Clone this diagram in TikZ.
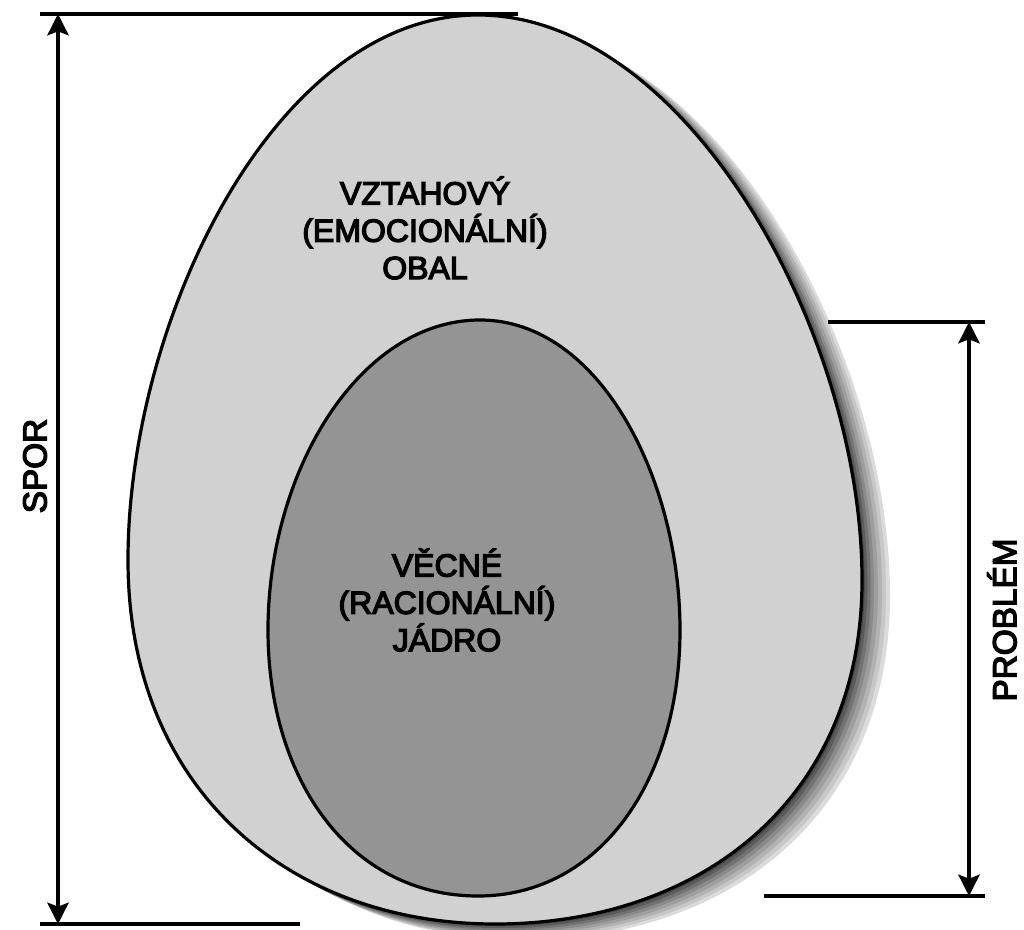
\documentclass[tikz,border=0pt]{standalone}
\usepackage{fontspec}
\setmainfont{Liberation Sans}
\newfontfamily\labfont[FakeBold=4]{Liberation Sans}
\usetikzlibrary{arrows.meta}
\newcommand\eggOuter[1]{\path[#1] (478,15) .. controls (685,15) and (862,330) .. (862,580) .. controls (862,800) and (700,924) .. (495,924) .. controls (290,924) and (128,790) .. (128,560) .. controls (128,320) and (275,15) .. cycle;}
\newcommand\eggInner[1]{\path[#1] (480,320) .. controls (600,320) and (680,480) .. (680,630) .. controls (680,780) and (600,896) .. (478,896) .. controls (350,896) and (268,780) .. (268,630) .. controls (268,470) and (360,320) .. cycle;}
\tikzset{
  dimline/.style={draw=black, line width=2.6pt},
  dimarrow/.style={draw=black, line width=2.6pt, {Stealth[length=16pt,width=16pt,inset=3pt]}-{Stealth[length=16pt,width=16pt,inset=3pt]}},
  eggline/.style={draw=black, line width=2.4pt},
  label/.style={font=\labfont\fontsize{24}{28}\selectfont, align=center, inner sep=0pt},
  sidelabel/.style={font=\labfont\fontsize{25}{28}\selectfont, rotate=90, inner sep=0pt},
  shadowlayer/.style={fill=black!#1}
}
\begin{document}
\begin{tikzpicture}[x=0.75pt,y=-0.75pt]
\useasboundingbox (0,0) rectangle (1024,930);
% soft cast shadow to lower right (light outer band to dark inner band)
\eggOuter{shadowlayer=14, xshift=21pt, yshift=-12pt}
\eggOuter{shadowlayer=22, xshift=18pt, yshift=-10.5pt}
\eggOuter{shadowlayer=30, xshift=15pt, yshift=-9pt}
\eggOuter{shadowlayer=38, xshift=12pt, yshift=-7.5pt}
\eggOuter{shadowlayer=46, xshift=9pt, yshift=-6pt}
\eggOuter{shadowlayer=55, xshift=6.5pt, yshift=-4.5pt}
\eggOuter{shadowlayer=64, xshift=4pt, yshift=-3pt}
\eggOuter{shadowlayer=72, xshift=2pt, yshift=-1.5pt}
\eggOuter{fill=black!18, eggline}
\eggInner{fill=black!42, eggline}
% labels
\node[label] (outerlab) at (425,228) {VZTAHOVÝ\\(EMOCIONÁLNÍ)\\OBAL};
\node[label] (innerlab) at (447,600) {VĚCNÉ\\(RACIONÁLNÍ)\\JÁDRO};
% left dimension
\coordinate (sporTop) at (58,14);
\coordinate (sporBot) at (58,924);
\coordinate (topL) at (40,14);
\coordinate (topR) at (518,14);
\coordinate (botL) at (40,924);
\coordinate (botR) at (300,924);
\draw[dimline] (topL) -- (topR);
\draw[dimline] (botL) -- (botR);
\draw[dimarrow] (sporTop) -- (sporBot);
\node[sidelabel] (spor) at (35,466) {SPOR};
% right dimension
\coordinate (probTop) at (969,322);
\coordinate (probBot) at (969,896);
\coordinate (rtL) at (828,322);
\coordinate (rtR) at (985,322);
\coordinate (rbL) at (764,896);
\coordinate (rbR) at (985,896);
\draw[dimline] (rtL) -- (rtR);
\draw[dimline] (rbL) -- (rbR);
\draw[dimarrow] (probTop) -- (probBot);
\node[sidelabel] (prob) at (1002,620) {PROBLÉM};
\end{tikzpicture}
\end{document}
